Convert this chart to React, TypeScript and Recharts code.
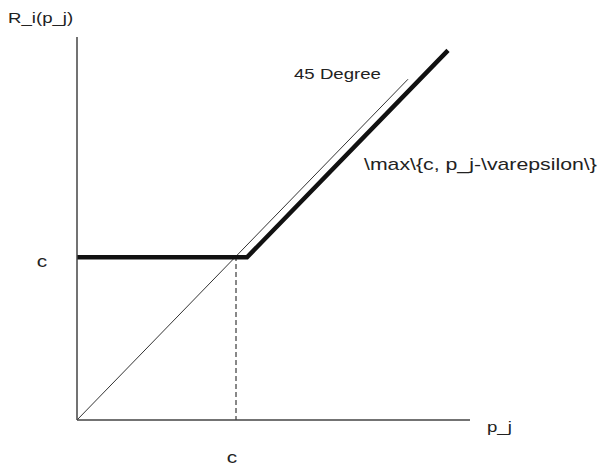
import { ComposedChart, Line, XAxis, YAxis } from 'recharts';

// concept plot values (data units ~ pixels)
const C_VALUE = 158;
const degreeX = [0, 331];
const degreeY = [0, 331];
const kinkX = [0, 170, 371];
const kinkY = [158, 158, 359];
const dashX = [159, 159];
const dashY = [-1, 158];
const xTicks = [159];
const yTicks = [C_VALUE];
const tickLabel = 'c';

const zip = (xs: number[], ys: number[]) => xs.map((x, i) => ({ x, y: ys[i] }));
const degreeData = zip(degreeX, degreeY);
const kinkData = zip(kinkX, kinkY);
const dashData = zip(dashX, dashY);

const FONT = '"Liberation Sans", Arial, sans-serif';
const STRETCH = 'scale(1.3,1)';

function StretchText({ x, y, size, children }: { x: number; y: number; size: number; children: string }) {
  return (
    <g transform={`translate(${x},${y})`}>
      <text transform="scale(1.33,1)" fontFamily={FONT} fontSize={size} fill="#222">
        {children}
      </text>
    </g>
  );
}

function YTick(props: any) {
  const { x, y } = props;
  return (
    <g transform={`translate(${x - 35},${y + 10})`}>
      <text transform={STRETCH} textAnchor="middle" fontFamily={FONT} fontSize={16} fill="#222">
        {tickLabel}
      </text>
    </g>
  );
}

function XTick(props: any) {
  const { x, y } = props;
  return (
    <g transform={`translate(${x - 4},${y + 43})`}>
      <text transform={STRETCH} textAnchor="middle" fontFamily={FONT} fontSize={16} fill="#222">
        {tickLabel}
      </text>
    </g>
  );
}

export default function App() {
  return (
    <div style={{ position: 'fixed', left: 0, top: 0, width: 600, height: 465, background: '#fff' }}>
      <ComposedChart
        width={600}
        height={465}
        margin={{ top: 37, left: 0, right: 130, bottom: 0 }}
      >
        <XAxis
          dataKey="x"
          type="number"
          domain={[0, 393]}
          ticks={xTicks}
          height={45}
          tickSize={0}
          tickMargin={0}
          tickLine={false}
          axisLine={{ stroke: '#444', strokeWidth: 1.5 }}
          tick={<XTick />}
          allowDataOverflow
        />
        <YAxis
          type="number"
          domain={[0, 372]}
          ticks={yTicks}
          width={77}
          tickSize={0}
          tickMargin={0}
          tickLine={false}
          axisLine={{ stroke: '#444', strokeWidth: 1.5 }}
          tick={<YTick />}
          allowDataOverflow
        />
        <Line
          data={dashData}
          dataKey="y"
          type="linear"
          stroke="#111"
          strokeWidth={1}
          strokeDasharray="5 3"
          dot={false}
          isAnimationActive={false}
        />
        <Line
          data={degreeData}
          dataKey="y"
          type="linear"
          stroke="#333"
          strokeWidth={1}
          dot={false}
          isAnimationActive={false}
        />
        <Line
          data={kinkData}
          dataKey="y"
          type="linear"
          stroke="#111"
          strokeWidth={4.5}
          dot={false}
          isAnimationActive={false}
        />
      </ComposedChart>
      <svg width={600} height={465} style={{ position: 'absolute', left: 0, top: 0, pointerEvents: 'none' }}>
        <StretchText x={8} y={23} size={14}>R_i(p_j)</StretchText>
        <StretchText x={294} y={79} size={14}>45 Degree</StretchText>
        <StretchText x={364} y={170} size={16}>{'\\max\\{c, p_j-\\varepsilon\\}'}</StretchText>
        <StretchText x={487} y={432} size={14}>p_j</StretchText>
      </svg>
    </div>
  );
}
